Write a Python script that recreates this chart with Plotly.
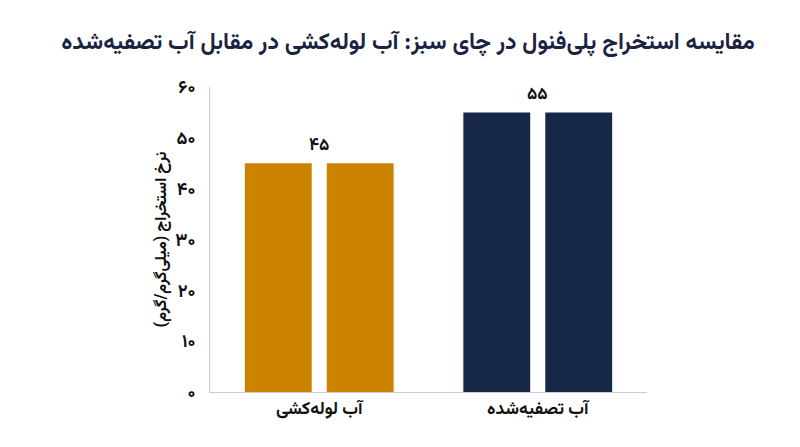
import plotly.graph_objects as go

categories = ["آب لوله‌کشی", "آب تصفیه‌شده"]
values = [45, 55]
value_labels = ["۴۵", "۵۵"]
bar_colors = ["#CC8400", "#172747"]
tick_vals = [0, 10, 20, 30, 40, 50, 60]
tick_text = ["۰", "۱۰", "۲۰", "۳۰", "۴۰", "۵۰", "۶۰"]
title_text = "مقایسه استخراج پلی‌فنول در چای سبز: آب لوله‌کشی در مقابل آب تصفیه‌شده"
y_title = "نرخ استخراج (میلی‌گرم/گرم)"

FONT = "Vazirmatn, Noto Sans Arabic, DejaVu Sans, sans-serif"
DARK = "#1a2340"

fig = go.Figure()
for _ in range(2):
    fig.add_trace(go.Bar(x=categories, y=values, marker=dict(color=bar_colors, line=dict(width=0)),
                         showlegend=False, hoverinfo="skip"))

for c, v, t in zip(categories, values, value_labels):
    fig.add_annotation(x=c, y=v, text="<b>" + t + "</b>", showarrow=False, yanchor="bottom", yshift=2,
                       font=dict(family=FONT, size=17, color="#111111"))

fig.update_layout(
    width=800, height=447,
    paper_bgcolor="white", plot_bgcolor="white",
    margin=dict(l=202, r=161, t=79, b=63),
    barmode="group", bargap=0.25, bargroupgap=0.184,
    title=dict(text="<b>" + title_text + "</b>", x=0.5, xanchor="center", y=0.926, yanchor="middle",
               font=dict(family=FONT, size=23, color=DARK)),
    font=dict(family=FONT, color="#111111"),
)
fig.update_yaxes(range=[0, 60], tickvals=tick_vals, ticktext=["<b>" + t + "</b>" for t in tick_text],
                 showgrid=False, zeroline=False,
                 showline=True, linecolor="#cccccc", linewidth=1, ticks="", ticklen=0, ticklabelstandoff=10,
                 tickfont=dict(family=FONT, size=18, color="#111111"),
                 title=dict(text="<b>" + y_title + "</b>", font=dict(family=FONT, size=16, color="#111111"), standoff=4))
fig.update_xaxes(showgrid=False, showline=True, linecolor="#cccccc", linewidth=1, ticks="",
                 tickfont=dict(family=FONT, size=17.5, color="#111111"),
                 tickprefix="<b>", ticksuffix="</b>")

fig.write_html("out.html")
